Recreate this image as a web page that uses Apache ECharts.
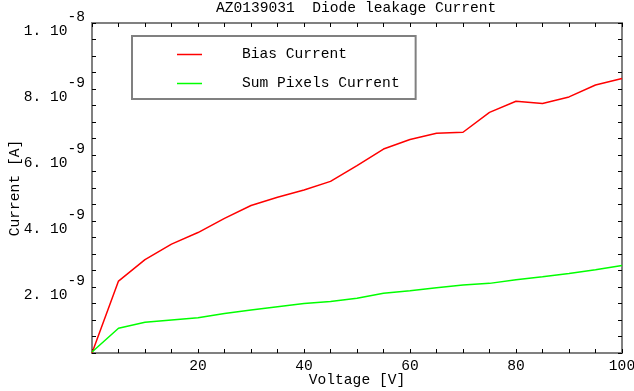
<!DOCTYPE html>
<html>
<head>
<meta charset="utf-8">
<script src="https://cdn.jsdelivr.net/npm/echarts@6/dist/echarts.min.js"></script>
<style>html,body{margin:0;padding:0;background:#fff;}#c{width:634px;height:391px;}</style>
</head>
<body>
<div id="c"></div>
<script>
// Voltage [V]
var voltages = [0,5,10,15,20,25,30,35,40,45,50,55,60,65,70,75,80,85,90,95,100];
// Currents in units of 1e-9 A
var biasCurrent = [0,2.18,2.83,3.30,3.65,4.08,4.47,4.72,4.94,5.20,5.68,6.18,6.47,6.66,6.69,7.29,7.63,7.56,7.76,8.12,8.32];
var pixelsCurrent = [0.03,0.75,0.93,1.00,1.07,1.20,1.30,1.40,1.50,1.56,1.66,1.81,1.89,1.98,2.06,2.11,2.22,2.31,2.41,2.52,2.65];
var seriesNames = ['Bias Current','Sum Pixels Current'];
var titleText = 'AZ0139031  Diode leakage Current';
var xTickLabels = [20,40,60,80,100];
var yTickLabels = [2,4,6,8,10];

var FONT = '"Liberation Mono","Courier New",monospace';
var FS = 14.6;

function pairs(xs, ys){ return xs.map(function(x,i){ return [x, ys[i]]; }); }

var chart = echarts.init(document.getElementById('c'), null, {renderer:'canvas'});
function axisLine(){ return {show:true, onZero:false, lineStyle:{color:'#808080', width:2}}; }
function axisTick(){ return {show:true, inside:true, length:4, lineStyle:{color:'#000', width:1}}; }
chart.setOption({
  animation:false,
  backgroundColor:'#fff',
  title:{
    text:titleText, left:216, top:1, padding:0,
    textStyle:{fontFamily:FONT, fontSize:FS, fontWeight:'normal', color:'#000'}
  },
  legend:{
    orient:'vertical', left:132, top:36,
    padding:[11,16,8,45],
    itemGap:14, itemWidth:25, itemHeight:1.5, icon:'rect',
    borderColor:'#808080', borderWidth:2,
    textStyle:{fontFamily:FONT, fontSize:FS, color:'#000', padding:[0,0,0,35]},
    data:seriesNames
  },
  grid:{left:92, right:12, top:23, bottom:38, containLabel:false, outerBoundsMode:'none',
        show:true, borderColor:'#808080', borderWidth:2, backgroundColor:'transparent'},
  xAxis:[{
    type:'value', min:0, max:100, interval:5, position:'bottom',
    name:'Voltage [V]', nameLocation:'middle', nameGap:20, nameMoveOverlap:false,
    nameTextStyle:{fontFamily:FONT, fontSize:FS, color:'#000'},
    axisLine:axisLine(), axisTick:axisTick(),
    splitLine:{show:false},
    axisLabel:{margin:6, fontFamily:FONT, fontSize:FS, color:'#000',
      formatter:function(v){ return xTickLabels.indexOf(Math.round(v))>=0 ? String(Math.round(v)) : ''; }}
  },{
    type:'value', min:0, max:100, interval:5, position:'top',
    axisLine:axisLine(), axisTick:axisTick(),
    splitLine:{show:false}, axisLabel:{show:false}
  }],
  yAxis:[{
    type:'value', min:0, max:10, interval:0.5, position:'left',
    name:'Current [A]', nameLocation:'middle', nameGap:69, nameMoveOverlap:false,
    nameTextStyle:{fontFamily:FONT, fontSize:FS, color:'#000'},
    axisLine:axisLine(), axisTick:axisTick(),
    splitLine:{show:false},
    axisLabel:{margin:7, fontFamily:FONT, fontSize:FS, color:'#000',
      formatter:function(v){
        var n = Math.round(v*10)/10;
        if (yTickLabels.indexOf(n) < 0) return '';
        if (n === 10) return '{b|1. 10}{s|-8}';
        return '{b|' + n + '. 10}{s|-9}';
      },
      rich:{
        b:{fontFamily:FONT, fontSize:FS, color:'#000', padding:[16,0,0,0]},
        s:{fontFamily:FONT, fontSize:FS, color:'#000', padding:[0,0,12,0]}
      }
    }
  },{
    type:'value', min:0, max:10, interval:0.5, position:'right',
    axisLine:axisLine(), axisTick:axisTick(),
    splitLine:{show:false}, axisLabel:{show:false}
  }],
  series:[{
    name:seriesNames[0], type:'line', data:pairs(voltages,biasCurrent),
    showSymbol:false, symbol:'none', lineStyle:{color:'#ff0000', width:1.5}, itemStyle:{color:'#ff0000'}
  },{
    name:seriesNames[1], type:'line', data:pairs(voltages,pixelsCurrent),
    showSymbol:false, symbol:'none', lineStyle:{color:'#00ff00', width:1.5}, itemStyle:{color:'#00ff00'}
  }]
});
</script>
</body>
</html>
